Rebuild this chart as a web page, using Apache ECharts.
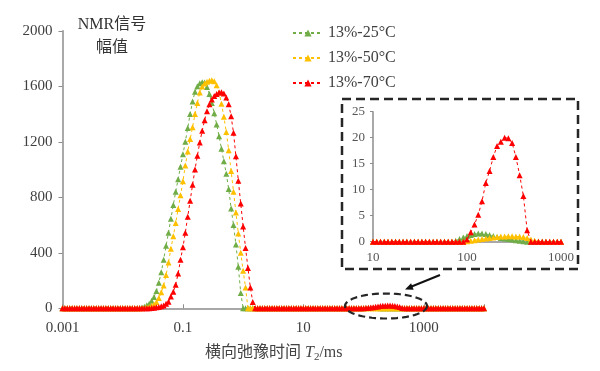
<!DOCTYPE html>
<html><head><meta charset="utf-8">
<script src="https://cdn.jsdelivr.net/npm/echarts@6/dist/echarts.min.js"></script>
<style>html,body{margin:0;padding:0;background:#fff}#c{width:600px;height:371px}</style>
</head><body><div id="c"></div>
<script>
// T2 sampling grid (ms), 25 points per decade
const T2 = [
1e-3,1.096e-3,1.202e-3,1.318e-3,1.445e-3,1.585e-3,1.738e-3,1.905e-3,2.089e-3,2.291e-3,2.512e-3,2.754e-3,3.020e-3,3.311e-3,3.631e-3,3.981e-3,4.365e-3,4.786e-3,5.248e-3,5.754e-3,6.310e-3,6.918e-3,7.586e-3,8.318e-3,9.120e-3,
1e-2,1.096e-2,1.202e-2,1.318e-2,1.445e-2,1.585e-2,1.738e-2,1.905e-2,2.089e-2,2.291e-2,2.512e-2,2.754e-2,3.020e-2,3.311e-2,3.631e-2,3.981e-2,4.365e-2,4.786e-2,5.248e-2,5.754e-2,6.310e-2,6.918e-2,7.586e-2,8.318e-2,9.120e-2,
1e-1,1.096e-1,1.202e-1,1.318e-1,1.445e-1,1.585e-1,1.738e-1,1.905e-1,2.089e-1,2.291e-1,2.512e-1,2.754e-1,3.020e-1,3.311e-1,3.631e-1,3.981e-1,4.365e-1,4.786e-1,5.248e-1,5.754e-1,6.310e-1,6.918e-1,7.586e-1,8.318e-1,9.120e-1,
1e0,1.096e0,1.202e0,1.318e0,1.445e0,1.585e0,1.738e0,1.905e0,2.089e0,2.291e0,2.512e0,2.754e0,3.020e0,3.311e0,3.631e0,3.981e0,4.365e0,4.786e0,5.248e0,5.754e0,6.310e0,6.918e0,7.586e0,8.318e0,9.120e0,
1e1,1.096e1,1.202e1,1.318e1,1.445e1,1.585e1,1.738e1,1.905e1,2.089e1,2.291e1,2.512e1,2.754e1,3.020e1,3.311e1,3.631e1,3.981e1,4.365e1,4.786e1,5.248e1,5.754e1,6.310e1,6.918e1,7.586e1,8.318e1,9.120e1,
1e2,1.096e2,1.202e2,1.318e2,1.445e2,1.585e2,1.738e2,1.905e2,2.089e2,2.291e2,2.512e2,2.754e2,3.020e2,3.311e2,3.631e2,3.981e2,4.365e2,4.786e2,5.248e2,5.754e2,6.310e2,6.918e2,7.586e2,8.318e2,9.120e2,
1e3,1.096e3,1.202e3,1.318e3,1.445e3,1.585e3,1.738e3,1.905e3,2.089e3,2.291e3,2.512e3,2.754e3,3.020e3,3.311e3,3.631e3,3.981e3,4.365e3,4.786e3,5.248e3,5.754e3,6.310e3,6.918e3,7.586e3,8.318e3,9.120e3,
1e4];

const seriesNames = ['13%-25°C', '13%-50°C', '13%-70°C'];

const amp25 = [
0,0,0,0,0, 0,0,0,0,0, 0,0,0,0,0, 0,0,0,0,0, 0,0,0,0,0,
0,0,0,0,0, 0,0, 2,5,12,22,32,55,82,125,185,260,350,450,545,645,745,840,930,1020,
1110,1200,1300,1400,1490,1560,1600,1622,1630,1628,1595,1545,1480,1405,1325,1240,1150,1060,970,860,720,600,460,300,110,
0,0,0,0,0, 0,0,0,0,0, 0,0,0,0,0, 0,0,0,0,0, 0,0,0,0,0,
0,0,0,0,0, 0,0,0,0,0, 0,0,0,0,0, 0,0,0,0,0, 0,0, 0.2,0.5,0.8,
1.1,1.3,1.5,1.6,1.6,1.5,1.3,1.1,0.9,0.7,0.6,0.5,0.4,0.3,0.2,0.1, 0,0,0,0,0, 0,0,0,0,
0,0,0,0,0, 0,0,0,0,0, 0,0,0,0,0, 0,0,0,0,0, 0,0,0,0,0,
0];

const amp50 = [
0,0,0,0,0, 0,0,0,0,0, 0,0,0,0,0, 0,0,0,0,0, 0,0,0,0,0,
0,0,0,0,0, 0,0,0, 1,2,5,10,18,28,45,75,115,165,240,330,430,520,615,715,815,
915,1030,1130,1220,1305,1400,1480,1555,1598,1620,1632,1640,1643,1636,1608,1555,1475,1380,1270,1140,990,840,690,540,400,
270,150, 0,0,0, 0,0,0,0,0, 0,0,0,0,0, 0,0,0,0,0, 0,0,0,0,0,
0,0,0,0,0, 0,0,0,0,0, 0,0,0,0,0, 0,0,0,0,0, 0,0,0,0,0,
0.1,0.2,0.3,0.4,0.5,0.6,0.7,0.8,0.9,1.0,1.0,1.05,1.05,1.0,1.0,0.9,0.7,0.4,0.2,0.05, 0,0,0,0,0,
0,0,0,0,0, 0,0,0,0,0, 0,0,0,0,0, 0,0,0,0,0, 0,0,0,0,0,
0];

const amp70 = [
0,0,0,0,0, 0,0,0,0,0, 0,0,0,0,0, 0,0,0,0,0, 0,0,0,0,0,
0,0,0,0,0, 0,0,0,0,0, 1,1,2,4,7,10,14,20,32,48,85,120,170,250,350,
440,545,660,775,890,1000,1100,1195,1280,1355,1420,1470,1505,1530,1545,1555,1558,1548,1520,1470,1385,1265,1095,920,755,
590,435,290,150,45, 0,0,0,0,0, 0,0,0,0,0, 0,0,0,0,0, 0,0,0,0,0,
0,0,0,0,0, 0,0,0,0,0, 0,0,0,0,0, 0,0,0,0,0, 0,0,0,0,0,
0.4,1.8,3.3,5.2,7.8,11.3,13.6,16.3,18.4,19.2,20.0,19.9,19.0,16.3,12.8,8.8,2.2, 0,0,0,0,0, 0,0,0,
0,0,0,0,0, 0,0,0,0,0, 0,0,0,0,0, 0,0,0,0,0, 0,0,0,0,0,
0];

const mainXTickLabels = {'-3': '0.001', '-1': '0.1', '1': '10', '3': '1000'};
const insetXTickLabels = {'1': '10', '2': '100', '3': '1000'};
const mainYRange = [0, 2000, 400];
const insetYRange = [0, 25, 5];
const insetXRange = [10, 1000];

const colors = ['#70AD47', '#FFC000', '#FF0000'];
const SERIF = '"Liberation Serif", "Times New Roman", "Noto Sans CJK SC", serif';
const LABEL_C = '#404040';

const chart = echarts.init(document.getElementById('c'), null, {renderer: 'canvas'});
const amps = [amp25, amp50, amp70];

function mkSeries(i, inset) {
  let data = T2.map((t, k) => [t, amps[i][k]]);
  if (inset) data = data.filter(d => d[0] >= insetXRange[0] * 0.9999 && d[0] <= insetXRange[1] * 1.0001);
  return {
    type: 'line', name: seriesNames[i], data: data,
    xAxisIndex: inset ? 1 : 0, yAxisIndex: inset ? 1 : 0,
    symbol: 'triangle', symbolSize: 6, showSymbol: true,
    itemStyle: {color: colors[i]},
    lineStyle: {color: colors[i], width: 1, type: [3, 3]},
    animation: false, silent: true, z: 2 + i
  };
}

const series = [];
for (let i = 0; i < 3; i++) series.push(mkSeries(i, false));
for (let i = 0; i < 3; i++) series.push(mkSeries(i, true));

// dashed ellipse outline (decoration)
const ell = [];
for (let a = 0; a < 72; a++) {
  const t = a / 72 * Math.PI * 2;
  ell.push([386 + 41 * Math.cos(t), 306 + 12.5 * Math.sin(t)]);
}

const axisGray = '#8c8c8c';
const plainNum = v => String(v);

chart.setOption({
  animation: false,
  backgroundColor: '#fff',
  grid: [
    {left: 62.5, right: 116, top: 30.8, bottom: 62.7, containLabel: false},
    {left: 373, right: 39, top: 111.7, bottom: 129.3, containLabel: false}
  ],
  legend: {
    data: seriesNames, orient: 'vertical', left: 292, top: 24, padding: 0,
    itemGap: 7, itemWidth: 30, itemHeight: 9,
    textStyle: {fontSize: 16, lineHeight: 18, fontFamily: SERIF, color: LABEL_C}
  },
  xAxis: [
    {
      type: 'log', gridIndex: 0, min: 0.001, max: 10000, logBase: 10, interval: 2,
      axisLine: {show: true, lineStyle: {color: axisGray, width: 1.5}},
      axisTick: {show: true, inside: true, length: 4, lineStyle: {color: axisGray}},
      splitLine: {show: false}, minorTick: {show: false},
      axisLabel: {
        margin: 12, fontSize: 15, fontFamily: SERIF, color: LABEL_C,
        formatter: v => { const e = Math.round(Math.log10(v)); return mainXTickLabels[String(e)] || ''; }
      }
    },
    {
      type: 'log', gridIndex: 1, min: insetXRange[0], max: insetXRange[1], logBase: 10,
      axisLine: {show: true, lineStyle: {color: axisGray, width: 1.5}},
      axisTick: {show: false},
      splitLine: {show: false},
      axisLabel: {
        margin: 9, fontSize: 13, fontFamily: SERIF, color: '#555',
        formatter: v => { const e = Math.round(Math.log10(v)); return insetXTickLabels[String(e)] || ''; }
      }
    }
  ],
  yAxis: [
    {
      type: 'value', gridIndex: 0, min: mainYRange[0], max: mainYRange[1], interval: mainYRange[2],
      axisLine: {show: true, lineStyle: {color: axisGray, width: 1.5}},
      axisTick: {show: true, inside: false, length: 4, lineStyle: {color: axisGray}},
      splitLine: {show: false},
      axisLabel: {margin: 10, fontSize: 15, fontFamily: SERIF, color: LABEL_C, formatter: plainNum}
    },
    {
      type: 'value', gridIndex: 1, min: insetYRange[0], max: insetYRange[1], interval: insetYRange[2],
      axisLine: {show: true, lineStyle: {color: axisGray, width: 1.5}},
      axisTick: {show: true, inside: false, length: 3, lineStyle: {color: axisGray}},
      splitLine: {show: false},
      axisLabel: {margin: 8, fontSize: 13, fontFamily: SERIF, color: '#555', formatter: plainNum}
    }
  ],
  series: series,
  graphic: [
    {type: 'text', x: 112, y: 25, z: 10, style: {text: 'NMR信号', fontSize: 16, fontFamily: SERIF, fill: '#333', align: 'center', verticalAlign: 'middle'}},
    {type: 'text', x: 112, y: 48, z: 10, style: {text: '幅值', fontSize: 16, fontFamily: SERIF, fill: '#333', align: 'center', verticalAlign: 'middle'}},
    {type: 'text', x: 205, y: 353, z: 10, style: {
      text: '{a|横向弛豫时间 }{i|T}{s|2}{a|/ms}', align: 'left', verticalAlign: 'middle',
      rich: {
        a: {fontSize: 16, fontFamily: SERIF, fill: '#444', lineHeight: 20},
        i: {fontSize: 16, fontFamily: SERIF, fontStyle: 'italic', fill: '#444', lineHeight: 20},
        s: {fontSize: 11, fontFamily: SERIF, fill: '#444', lineHeight: 14, verticalAlign: 'bottom'}
      }
    }},
    {type: 'rect', z: 10, shape: {x: 342, y: 99, width: 236, height: 170}, style: {fill: 'none', stroke: '#262626', lineWidth: 2.5, lineDash: [9, 5]}},
    {type: 'polygon', z: 10, shape: {points: ell}, style: {fill: 'none', stroke: '#262626', lineWidth: 2.2, lineDash: [7, 4]}},
    {type: 'line', z: 10, shape: {x1: 440, y1: 275, x2: 411, y2: 286.8}, style: {stroke: '#111', lineWidth: 2}},
    {type: 'polygon', z: 10, shape: {points: [[405, 289.5], [413.7, 289.7], [411.1, 283.3]]}, style: {fill: '#111'}}
  ]
});
</script>
</body></html>
